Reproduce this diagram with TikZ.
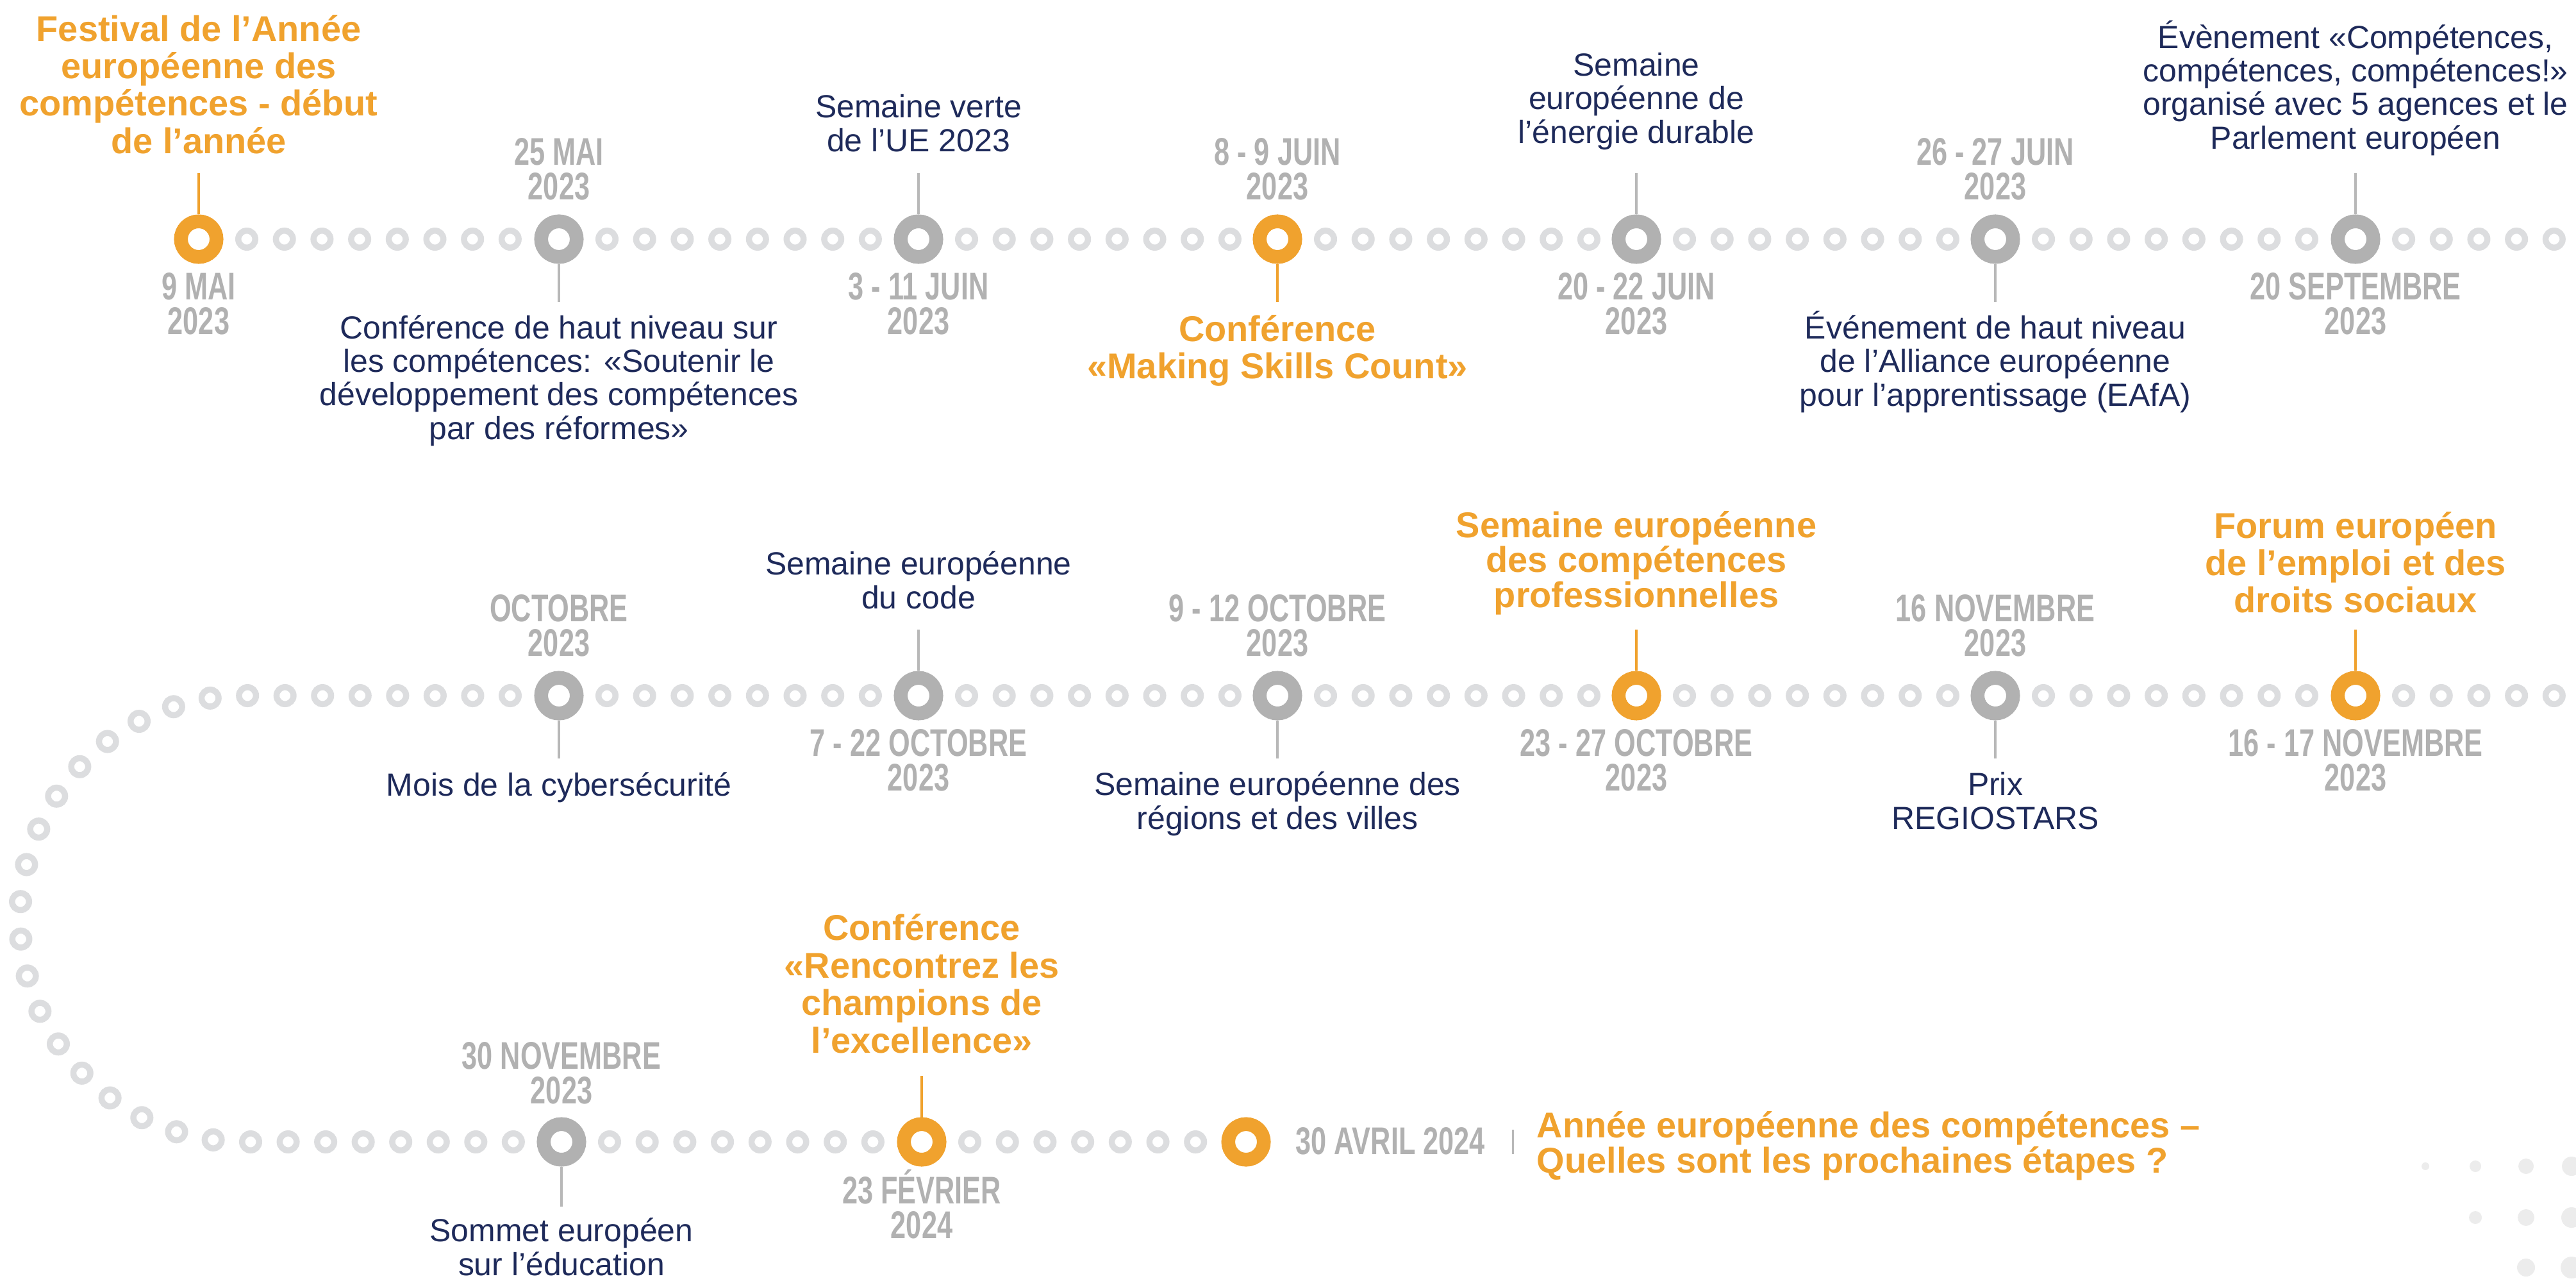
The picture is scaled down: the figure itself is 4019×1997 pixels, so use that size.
\documentclass[tikz,border=0pt]{standalone}
\usepackage{fontspec}
\setmainfont{Liberation Sans}
\newfontfamily\datefont[FakeStretch=0.72]{Liberation Sans Bold}
\definecolor{eyorange}{HTML}{F0A22E}
\definecolor{navy}{HTML}{1E2A5A}
\definecolor{dategray}{HTML}{B1B1B1}
\definecolor{ringgray}{HTML}{B1B1B1}
\definecolor{ringlight}{HTML}{DCDDDF}
\definecolor{stemgray}{HTML}{B8B8B8}
\definecolor{dotlight}{HTML}{ECECEC}
\tikzset{
  smallring/.style={draw=ringlight, line width=0.095cm},
  bigring/.style={circle, draw=#1, line width=0.215cm, minimum size=0.555cm, inner sep=0pt},
  stem/.style={draw=#1, line width=0.045cm},
  navytext/.style={font=\fontsize{14.2}{14.8}\selectfont, text=navy, align=center, anchor=base, inner sep=0pt},
  orangetext/.style={font=\bfseries\fontsize{15.9}{16.4}\selectfont, text=eyorange, align=center, anchor=base, inner sep=0pt},
  datetext/.style={font=\datefont\fontsize{17.1}{15.2}\selectfont, text=dategray, align=center, anchor=base, inner sep=0pt},
  dot/.style={fill=dotlight, draw=none}
}
\begin{document}
\begin{tikzpicture}[x=0.01cm, y=-0.01cm]
\fill[white] (0,0) rectangle (4019,1997);
\useasboundingbox (0,0) rectangle (4019,1997);

% ---------- small rings ----------
% row 1
\foreach \b in {310,872,1433,1993,2553,3113}{
  \foreach \k in {0,...,7}{
    \path[smallring] (\b+75+58.7*\k,373) circle[radius=13.25];
  }
}
\foreach \k in {0,...,4}{\path[smallring] (3675+75+58.7*\k,373) circle[radius=13.25];}
% row 2
\foreach \b in {872,1433,1993,2553,3113}{
  \foreach \k in {0,...,7}{
    \path[smallring] (\b+75+58.7*\k,1085) circle[radius=13.25];
  }
}
\foreach \k in {0,...,4}{\path[smallring] (3675+75+58.7*\k,1085) circle[radius=13.25];}
% left bend (row 2 -> row 3)
\foreach \k in {0,...,7}{\path[smallring] (796-58.55*\k,1085) circle[radius=13.25];}
\foreach \k in {8,...,25}{
  \pgfmathsetmacro\ang{(\k*58.55-417)/348*57.29578}
  \path[smallring] ({379-348*sin(\ang)},{1433-348*cos(\ang)}) circle[radius=13.25];
}
\foreach \k in {26,...,33}{\path[smallring] (379+\k*58.55-1510.3,1781) circle[radius=13.25];}
% row 3
\foreach \k in {0,...,7}{\path[smallring] (876+75+58.7*\k,1781) circle[radius=13.25];}
\foreach \k in {0,...,6}{\path[smallring] (1438+75+58.7*\k,1781) circle[radius=13.25];}

% ---------- big rings ----------
\node[bigring=eyorange] (r1) at (310,373) {};
\node[bigring=ringgray] (r2) at (872,373) {};
\node[bigring=ringgray] (r3) at (1433,373) {};
\node[bigring=eyorange] (r4) at (1993,373) {};
\node[bigring=ringgray] (r5) at (2553,373) {};
\node[bigring=ringgray] (r6) at (3113,373) {};
\node[bigring=ringgray] (r7) at (3675,373) {};
\node[bigring=ringgray] (r8) at (872,1085) {};
\node[bigring=ringgray] (r9) at (1433,1085) {};
\node[bigring=ringgray] (r10) at (1993,1085) {};
\node[bigring=eyorange] (r11) at (2553,1085) {};
\node[bigring=ringgray] (r12) at (3113,1085) {};
\node[bigring=eyorange] (r13) at (3675,1085) {};
\node[bigring=ringgray] (r14) at (876,1781) {};
\node[bigring=eyorange] (r15) at (1438,1781) {};
\node[bigring=eyorange] (r16) at (1944,1781) {};

% ---------- stems ----------
\coordinate (s1) at (310,270);
\coordinate (s2) at (872,471);
\coordinate (s3) at (1433,270);
\coordinate (s4) at (1993,471);
\coordinate (s5) at (2553,270);
\coordinate (s6) at (3113,471);
\coordinate (s7) at (3675,270);
\coordinate (s8) at (872,1183);
\coordinate (s9) at (1433,982);
\coordinate (s10) at (1993,1183);
\coordinate (s11) at (2553,982);
\coordinate (s12) at (3113,1183);
\coordinate (s13) at (3675,982);
\coordinate (s14) at (876,1882);
\coordinate (s15) at (1438,1678);
\draw[stem=eyorange] (r1.north) -- (s1);
\draw[stem=stemgray] (r2.south) -- (s2);
\draw[stem=stemgray] (r3.north) -- (s3);
\draw[stem=eyorange] (r4.south) -- (s4);
\draw[stem=stemgray] (r5.north) -- (s5);
\draw[stem=stemgray] (r6.south) -- (s6);
\draw[stem=stemgray] (r7.north) -- (s7);
\draw[stem=stemgray] (r8.south) -- (s8);
\draw[stem=stemgray] (r9.north) -- (s9);
\draw[stem=stemgray] (r10.south) -- (s10);
\draw[stem=eyorange] (r11.north) -- (s11);
\draw[stem=stemgray] (r12.south) -- (s12);
\draw[stem=eyorange] (r13.north) -- (s13);
\draw[stem=stemgray] (r14.south) -- (s14);
\draw[stem=eyorange] (r15.north) -- (s15);

% ---------- row 1 texts (anchor = baseline of last line) ----------
\node[orangetext, font=\bfseries\fontsize{15.9}{16.5}\selectfont] (t1) at (310,239) {Festival de l’Année\\européenne des\\compétences - début\\de l’année};
\node[datetext] (d1) at (310,521) {9 MAI\\2023};
\node[datetext] (d2) at (872,311) {25 MAI\\2023};
\node[navytext] (t2) at (872,685) {Conférence de haut niveau sur\\les compétences: «Soutenir le\\développement des compétences\\par des réformes»};
\node[navytext] (t3) at (1433,236) {Semaine verte\\de l’UE 2023};
\node[datetext] (d3) at (1433,521) {3 - 11 JUIN\\2023};
\node[datetext] (d4) at (1993,311) {8 - 9 JUIN\\2023};
\node[orangetext] (t4) at (1993,590) {Conférence\\«Making Skills Count»};
\node[navytext] (t5) at (2553,223) {Semaine\\européenne de\\l’énergie durable};
\node[datetext] (d5) at (2553,521) {20 - 22 JUIN\\2023};
\node[datetext] (d6) at (3113,311) {26 - 27 JUIN\\2023};
\node[navytext] (t6) at (3113,633) {Événement de haut niveau\\de l’Alliance européenne\\pour l’apprentissage (EAfA)};
\node[navytext] (t7) at (3675,232) {Évènement «Compétences,\\compétences, compétences!»\\organisé avec 5 agences et le\\Parlement européen};
\node[datetext] (d7) at (3675,521) {20 SEPTEMBRE\\2023};

% ---------- row 2 texts ----------
\node[datetext] (d8) at (872,1023) {OCTOBRE\\2023};
\node[navytext] (t8) at (872,1241) {Mois de la cybersécurité};
\node[navytext] (t9) at (1433,949) {Semaine européenne\\du code};
\node[datetext] (d9) at (1433,1233) {7 - 22 OCTOBRE\\2023};
\node[datetext] (d10) at (1993,1023) {9 - 12 OCTOBRE\\2023};
\node[navytext] (t10) at (1993,1293) {Semaine européenne des\\régions et des villes};
\node[orangetext, font=\bfseries\fontsize{15.9}{15.4}\selectfont] (t11) at (2553,947) {Semaine européenne\\des compétences\\professionnelles};
\node[datetext] (d11) at (2553,1233) {23 - 27 OCTOBRE\\2023};
\node[datetext] (d12) at (3113,1023) {16 NOVEMBRE\\2023};
\node[navytext] (t12) at (3113,1293) {Prix\\REGIOSTARS};
\node[orangetext] (t13) at (3675,955) {Forum européen\\de l’emploi et des\\droits sociaux};
\node[datetext] (d13) at (3675,1233) {16 - 17 NOVEMBRE\\2023};

% ---------- row 3 texts ----------
\node[datetext] (d14) at (876,1721) {30 NOVEMBRE\\2023};
\node[navytext] (t14) at (876,1989) {Sommet européen\\sur l’éducation};
\node[orangetext, font=\bfseries\fontsize{15.9}{16.6}\selectfont] (t15) at (1438,1642) {Conférence\\«Rencontrez les\\champions de\\l’excellence»};
\node[datetext] (d15) at (1438,1931) {23 FÉVRIER\\2024};
\node[datetext, anchor=base west] (d16) at (2021,1800) {30 AVRIL 2024};
\coordinate (b1) at (2360,1762);
\coordinate (b2) at (2360,1800);
\draw[stem=stemgray, line width=0.03cm] (b1) -- (b2);
\node[orangetext, align=left, anchor=base west, font=\bfseries\fontsize{15.9}{15.4}\selectfont] (t16) at (2397,1829) {Année européenne des compétences –\\Quelles sont les prochaines étapes ?};

% ---------- decorative dots ----------
\fill[dot] (3784,1819) circle[radius=6];
\fill[dot] (3862,1819) circle[radius=9];
\fill[dot] (3941,1819) circle[radius=12];
\fill[dot] (4012,1819) circle[radius=15];
\fill[dot] (3862,1899) circle[radius=10];
\fill[dot] (3941,1899) circle[radius=13];
\fill[dot] (4012,1899) circle[radius=16];
\fill[dot] (3941,1977) circle[radius=14];
\fill[dot] (4012,1977) circle[radius=17];
\end{tikzpicture}
\end{document}
